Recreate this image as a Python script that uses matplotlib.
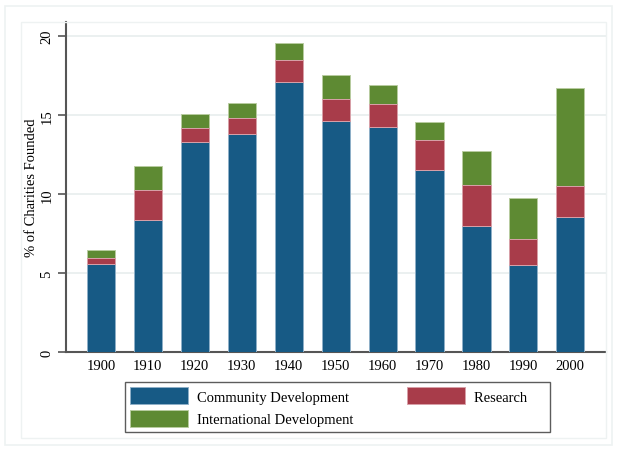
import matplotlib
matplotlib.use('Agg')
from matplotlib import pyplot as plt
from matplotlib.patches import Rectangle
import numpy as np

# Data
decades = ['1900', '1910', '1920', '1930', '1940', '1950', '1960', '1970', '1980', '1990', '2000']
community = [5.6, 8.4, 13.3, 13.8, 17.1, 14.65, 14.25, 11.55, 8.0, 5.5, 8.55]
research = [0.37, 1.9, 0.9, 1.0, 1.4, 1.35, 1.45, 1.9, 2.6, 1.7, 1.95]
international = [0.53, 1.5, 0.9, 1.0, 1.1, 1.55, 1.2, 1.15, 2.15, 2.57, 6.2]

blue = '#175a85'
red = '#a83c4a'
green = '#5e8a33'

plt.rcParams['font.family'] = ['Liberation Serif', 'DejaVu Serif']

fig = plt.figure(figsize=(6.18, 4.52), dpi=100)
W, H = 618, 452
ax = fig.add_axes([66 / W, 1 - 353.3 / H, (606 - 66) / W, (353.3 - 23) / H])

x = np.arange(len(decades))
comm = np.array(community)
res = np.array(research)
intl = np.array(international)

ax.bar(x, comm, width=0.6, color=blue, edgecolor='#8fb0c8', linewidth=0.7,
       label='Community Development', zorder=3)
ax.bar(x, intl, width=0.6, bottom=comm + res, color=green, edgecolor='#b8cca0',
       linewidth=0.7, label='International Development', zorder=3)
ax.bar(x, res, width=0.6, bottom=comm, color=red, edgecolor='#d8a0a8',
       linewidth=0.7, label='Research', zorder=3)

ax.set_xlim(-0.745, 10.76)
ax.set_ylim(0, 20.9)
ax.set_xticks(x)
ax.set_xticklabels(decades, fontsize=10.5)
ax.set_yticks([0, 5, 10, 15, 20])
ax.set_yticklabels(['0', '5', '10', '15', '20'], rotation=90, va='center', fontsize=10.5)
ax.tick_params(axis='x', length=0, pad=5)
ax.tick_params(axis='y', length=6, width=1.2, color='#555555', pad=3)
ax.grid(axis='y', color='#e8eeee', linewidth=1.2, zorder=0)
ax.set_axisbelow(True)

for s in ['top', 'right']:
    ax.spines[s].set_visible(False)
ax.spines['left'].set_color('#555555')
ax.spines['left'].set_linewidth(1.5)
ax.spines['bottom'].set_color('#555555')
ax.spines['bottom'].set_linewidth(1.5)

ax.set_ylabel('% of Charities Founded', fontsize=10.5, labelpad=2)

handles, labels = ax.get_legend_handles_labels()
leg = fig.legend(handles, [labels[0], labels[1], labels[2] + '     '],
                 ncol=2, loc='upper left', bbox_to_anchor=(125 / W, 1 - 383 / H),
                 borderaxespad=0, frameon=True, fancybox=False, fontsize=10.5,
                 handlelength=4.0, handleheight=1.45, columnspacing=3.65,
                 handletextpad=0.6, labelspacing=0.35, borderpad=0.35)
leg.get_frame().set_edgecolor('#333333')
leg.get_frame().set_linewidth(1.0)

# outer frames (Stata graph region / plot region)
fig.patches.append(Rectangle((5 / W, 1 - 446 / H), (612 - 5) / W, (446 - 7) / H,
                             transform=fig.transFigure, fill=False,
                             edgecolor='#eef2f2', linewidth=1.2))
fig.patches.append(Rectangle((21 / W, 1 - 439 / H), (606 - 21) / W, (439 - 23) / H,
                             transform=fig.transFigure, fill=False,
                             edgecolor='#eef2f2', linewidth=1.0))

fig.savefig('out.png', dpi=100)
